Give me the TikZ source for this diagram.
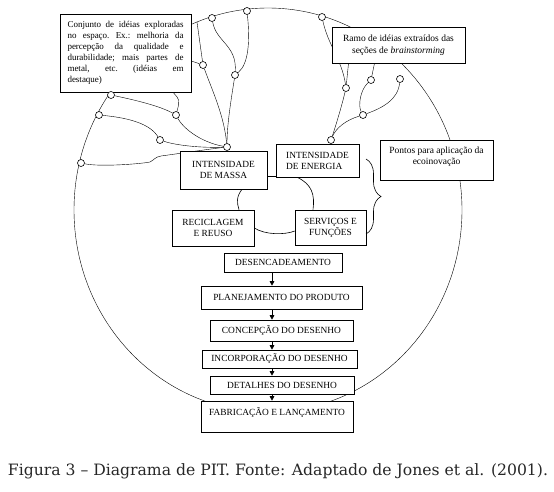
\documentclass[tikz,border=0pt]{standalone}
\usepackage{fontspec}
\setmainfont{Liberation Serif}
\newfontfamily\capfont{DejaVu Serif}
\usetikzlibrary{arrows.meta,decorations.pathreplacing,backgrounds}
\newcommand\jline[1]{\leavevmode\hbox to 116pt{#1}}
\begin{document}
\begin{tikzpicture}[x=1pt,y=-1pt,line width=0.6pt,
  box/.style={draw, fill=white, inner sep=0pt, align=center, font=\fontsize{9.4}{11}\selectfont},
  dot/.style={circle, draw, fill=white, inner sep=0pt, minimum size=7pt},
  arr/.style={-{Triangle[length=4.5pt,width=4.5pt]}},
  ring/.style={line width=0.6pt}]
\useasboundingbox (0,0) rectangle (554,492);

% boxes
\node[box, text width=116pt, align=left, minimum width=131pt, minimum height=78pt, inner xsep=7.5pt, font=\fontsize{9}{11}\selectfont] (conj) at (125.5,53)
 {\jline{Conjunto\hfill de\hfill idéias\hfill exploradas}\\
  \jline{no\hfill espaço.\hfill Ex.:\hfill melhoria\hfill da}\\
  \jline{percepção\hfill da\hfill qualidade\hfill e}\\
  \jline{durabilidade;\hfill mais\hfill partes\hfill de}\\
  \jline{metal,\hfill etc.\hfill (idéias\hfill em}\\
  destaque)};
\node[box, minimum width=133pt, minimum height=36pt, font=\fontsize{9.5}{12}\selectfont] (ramo) at (398.5,45)
 {Ramo de idéias extraídos das\\seções de \textit{brainstorming}};
\node[box, minimum width=87pt, minimum height=38pt] (massa) at (223.5,170) {INTENSIDADE\\DE MASSA};
\node[box, align=left, minimum width=83pt, minimum height=33pt] (energia) at (317.5,160.5) {INTENSIDADE\\DE ENERGIA};
\node[box, minimum width=113pt, minimum height=40pt, text depth=9pt, font=\fontsize{9.5}{11}\selectfont] (pontos) at (436.5,160) {Pontos para aplicação da\\ecoinovação};
\node[box, minimum width=82pt, minimum height=36pt] (recic) at (213,228) {RECICLAGEM\\E REUSO};
\node[box, minimum width=71pt, minimum height=35pt] (serv) at (330.5,227.5) {SERVIÇOS E\\FUNÇÕES};
\node[box, minimum width=118pt, minimum height=19pt] (desenc) at (283,262.5) {DESENCADEAMENTO};
\node[box, minimum width=161pt, minimum height=23pt] (plan) at (281.5,297.5) {PLANEJAMENTO DO PRODUTO};
\node[box, minimum width=143pt, minimum height=21pt] (conc) at (281.5,330.5) {CONCEPÇÃO DO DESENHO};
\node[box, minimum width=155pt, minimum height=18pt] (incorp) at (279.5,359) {INCORPORAÇÃO DO DESENHO};
\node[box, minimum width=144pt, minimum height=18pt] (det) at (282,385) {DETALHES DO DESENHO};
\node[box, minimum width=152pt, text height=10pt, text depth=13pt, inner ysep=4pt] (fab) at (277,416.5) {FABRICAÇÃO E LANÇAMENTO};

% idea circles
\node[dot] (L1) at (81,163) {};
\node[dot] (L2) at (99,115) {};
\node[dot] (L3) at (111,95) {};
\node[dot] (L4) at (160,140) {};
\node[dot] (L5) at (176,115) {};
\node[dot] (L6) at (203,65) {};
\node[dot] (L7) at (212,18) {};
\node[dot] (L8) at (247,11) {};
\node[dot] (L9) at (235,75) {};
\node[dot] (hubL) at (227,147) {};
\node[dot] (R1) at (322,17) {};
\node[dot] (R2) at (346,88) {};
\node[dot] (R3) at (371,80) {};
\node[dot] (R4) at (400,79) {};
\node[dot] (R5) at (363,115) {};
\node[dot] (hubR) at (331,140) {};
\coordinate (e1) at (197,22);
\coordinate (ax) at (272,0);

\begin{scope}[on background layer]
\draw (268,210) ellipse [x radius=194pt, y radius=202pt];
% left tree
\draw (L1) .. controls (100,167) and (140,164) .. (150,162) .. controls (154,160) and (155,157) .. (161,156) .. controls (190,152) and (210,149) .. (hubL);
\draw (L2) .. controls (130,118) and (150,124) .. (L4);
\draw (L4) .. controls (178,146) and (205,148) .. (hubL);
\draw (L3) .. controls (135,100) and (160,106) .. (L5);
\draw ([xshift=47.5pt]conj.south) .. controls (180,100) .. (L5);
\draw (L5) .. controls (183,128) and (200,142) .. (hubL);
\draw (L7) .. controls (216,42) and (237,45) .. (L9);
\draw (L8) .. controls (250,40) and (249,64) .. (L9);
\draw (L9) .. controls (231,100) and (227,125) .. (hubL);
\draw (e1) -- (L6);
\draw ([yshift=-8pt]conj.east) -- (L6);
\draw (L6) .. controls (212,90) and (224,115) .. (hubL);
% right tree
\draw (R1) .. controls (328,45) and (342,60) .. (R2);
\draw ([xshift=-50pt]ramo.south) -- (R2);
\draw ([xshift=-24pt]ramo.south) -- (R3);
\draw (R3) .. controls (360,90) and (358,106) .. (R5);
\draw (R4) .. controls (398,100) and (382,108) .. (R5);
\draw (R5) .. controls (346,120) and (336,128) .. (hubR);
\draw (R2) .. controls (342,105) and (336,125) .. (hubR);
\end{scope}

% inner ring
\draw[ring] (massa.east |- 0,176) -- (energia.west |- 0,176);
\draw[ring] (massa.south -| 242,0) .. controls (236,197) and (237,203) .. (recic.north -| 239,0);
\draw[ring] (recic.east |- 0,228) .. controls (265,235) and (285,235) .. (serv.west |- 0,231);
\draw[ring] (energia.south -| 297,0) .. controls (312,184) and (315,195) .. (serv.north -| 313,0);

% brace
\draw[decorate, decoration={brace, amplitude=15pt}] (366,159) -- (366,234);

% process arrows
\draw[arr] (desenc.south -| ax) -- (plan.north -| ax);
\draw[arr] (plan.south -| ax) -- (conc.north -| ax);
\draw[arr] (conc.south -| ax) -- (incorp.north -| ax);
\draw[arr] (incorp.south -| ax) -- (det.north -| ax);
\draw[arr] (det.south -| ax) -- (fab.north -| ax);

% caption
\node[anchor=base, inner sep=0pt, text=black!85] (cap) at (278,475) {\resizebox{540pt}{!}{\capfont Figura 3 – Diagrama de PIT. Fonte: Adaptado de Jones et al. (2001).}};
\end{tikzpicture}
\end{document}
